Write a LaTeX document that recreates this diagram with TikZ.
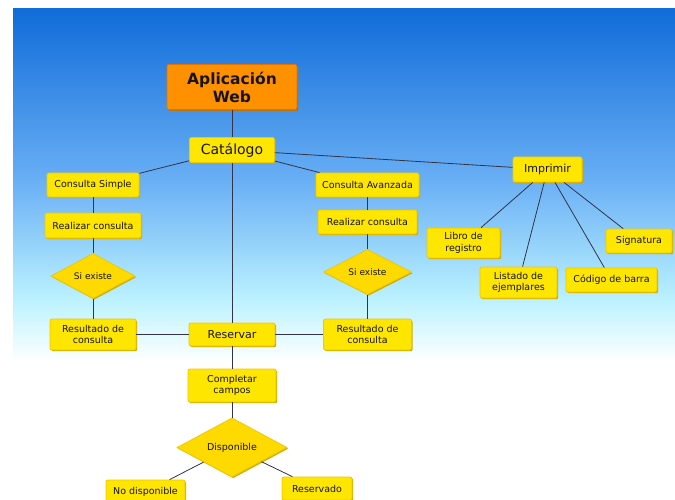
\documentclass[tikz,border=0pt]{standalone}
\usepackage{fontspec}
\setmainfont{DejaVu Sans}
\usetikzlibrary{shapes.geometric,shadows}
\definecolor{bgA}{RGB}{16,108,217}
\definecolor{bgB}{RGB}{105,175,245}
\definecolor{bgC}{RGB}{188,242,255}
\definecolor{boxyellow}{RGB}{255,230,0}
\definecolor{boxedge}{RGB}{238,200,0}
\definecolor{shadowcol}{RGB}{205,170,0}
\definecolor{diayellow}{RGB}{255,218,0}
\definecolor{orangefill}{RGB}{255,145,0}
\definecolor{orangeedge}{RGB}{225,115,0}
\definecolor{orangeshadow}{RGB}{190,95,0}
\definecolor{linecol}{RGB}{50,52,72}
\definecolor{textcol}{RGB}{20,20,20}
\tikzset{
  box/.style={rectangle, rounded corners=2pt, fill=boxyellow, draw=boxedge,
    line width=0.8pt, inner sep=1pt, align=center, text=textcol,
    font=\fontsize{9.5}{11.5}\selectfont,
    drop shadow={shadow xshift=1.2pt, shadow yshift=-1.2pt, fill=shadowcol, opacity=1}},
  dia/.style={diamond, fill=diayellow, draw=boxedge, line width=0.8pt,
    inner sep=0pt, text=textcol, font=\fontsize{9}{11}\selectfont,
    drop shadow={shadow xshift=1.2pt, shadow yshift=-1.2pt, fill=shadowcol, opacity=1}},
  conn/.style={draw=linecol, line width=0.8pt},
}
\begin{document}
\begin{tikzpicture}[x=1pt,y=-1pt]
\useasboundingbox (0,0) rectangle (675,500);
\fill[white] (0,0) rectangle (675,500);
% background gradient
\fill[top color=bgA, bottom color=bgB] (13,9) rectangle (675,180.5);
\fill[top color=bgB, bottom color=bgC] (13,180) rectangle (675,300.5);
\fill[top color=bgC, bottom color=white] (13,300) rectangle (675,362);

% nodes
\node[box, fill=orangefill, draw=orangeedge,
  drop shadow={shadow xshift=1.2pt, shadow yshift=-1.2pt, fill=orangeshadow, opacity=1},
  minimum width=130pt, minimum height=45pt, font=\fontsize{15.5}{18}\selectfont\bfseries]
  (app) at (232,87) {Aplicación\\Web};
\node[box, minimum width=85pt, minimum height=25pt, font=\fontsize{14}{16}\selectfont] (cat) at (232,150) {Catálogo};

\node[box, minimum width=92pt, minimum height=24pt] (cs) at (93,185) {Consulta Simple};
\node[box, minimum width=96pt, minimum height=25pt] (rc1) at (93,225.5) {Realizar consulta};
\node[dia, minimum width=84pt, minimum height=44pt] (si1) at (93,276) {Si existe};
\node[box, minimum width=86pt, minimum height=31pt] (res1) at (93,334.5) {Resultado de\\consulta};

\node[box, minimum width=86pt, minimum height=23pt, font=\fontsize{11}{13}\selectfont] (reserv) at (232,334.5) {Reservar};

\node[box, minimum width=103pt, minimum height=24pt] (ca) at (367.5,185) {Consulta Avanzada};
\node[box, minimum width=99pt, minimum height=24pt] (rc2) at (367.5,222) {Realizar consulta};
\node[dia, minimum width=88pt, minimum height=41pt] (si2) at (367.5,272) {Si existe};
\node[box, minimum width=88pt, minimum height=31pt] (res2) at (367.5,334.5) {Resultado de\\consulta};

\node[box, minimum width=69pt, minimum height=25pt, font=\fontsize{11}{13}\selectfont] (imp) at (547.5,169.5) {Imprimir};
\node[box, minimum width=73pt, minimum height=30pt] (libro) at (463.5,243) {Libro de\\registro};
\node[box, minimum width=77pt, minimum height=31pt] (listado) at (518.5,282.5) {Listado de\\ejemplares};
\node[box, minimum width=91pt, minimum height=24pt] (codigo) at (611.5,280) {Código de barra};
\node[box, minimum width=66pt, minimum height=24pt] (sign) at (639,241) {Signatura};

\node[box, minimum width=88pt, minimum height=33pt] (comp) at (232,385.5) {Completar\\campos};
\node[dia, minimum width=110pt, minimum height=51pt, font=\fontsize{9.5}{11.5}\selectfont] (disp) at (232,447.5) {Disponible};
\node[box, minimum width=79pt, minimum height=24pt] (nodisp) at (145.5,492) {No disponible};
\node[box, minimum width=70pt, minimum height=23pt] (reservado) at (317,488.5) {Reservado};

% connectors
\draw[conn] (app) -- (cat);
\draw[conn] (cat) -- (cs);
\draw[conn] (cat) -- (ca);
\draw[conn] (cat) -- (imp);
\draw[conn] (cat) -- (reserv);
\draw[conn] (cs) -- (rc1);
\draw[conn] (rc1) -- (si1);
\draw[conn] (si1) -- (res1);
\draw[conn] (res1) -- (reserv);
\draw[conn] (reserv) -- (res2);
\draw[conn] (ca) -- (rc2);
\draw[conn] (rc2) -- (si2);
\draw[conn] (si2) -- (res2);
\draw[conn] (reserv) -- (comp);
\draw[conn] (comp) -- (disp);
\draw[conn] (disp) -- (nodisp);
\draw[conn] (disp) -- (reservado);
\draw[conn] (imp) -- (libro);
\draw[conn] (imp) -- (listado);
\draw[conn] (imp) -- (codigo);
\draw[conn] (imp) -- (sign);
\end{tikzpicture}
\end{document}
